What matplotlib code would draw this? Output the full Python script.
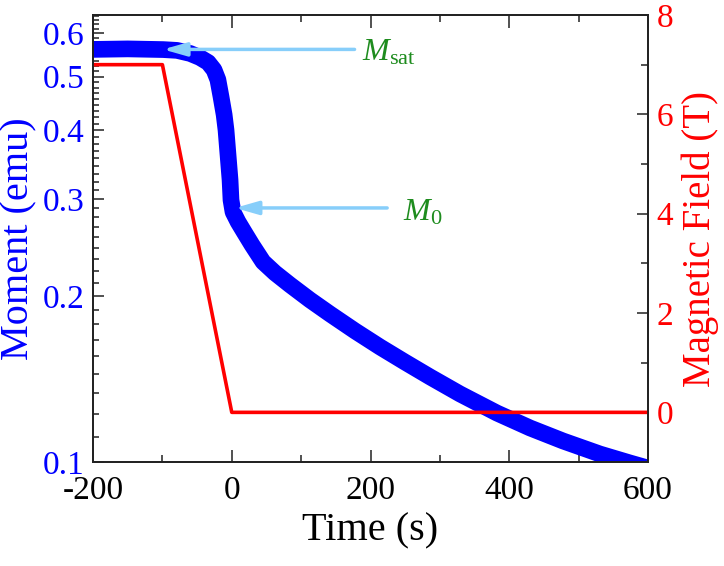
import matplotlib
matplotlib.use("Agg")
import matplotlib.pyplot as plt
from matplotlib.ticker import FixedLocator, NullFormatter

plt.rcParams['font.family'] = ['Liberation Serif', 'DejaVu Serif']
plt.rcParams['mathtext.fontset'] = 'custom'
plt.rcParams['mathtext.rm'] = 'Liberation Serif'
plt.rcParams['mathtext.it'] = 'Liberation Serif:italic'
plt.rcParams['axes.unicode_minus'] = False

# Moment data (emu) vs time (s)
time_m = [-200, -150, -99, -79, -60, -46, -34, -25.6, -20, -15.5, -11, -8.3,
          -5.4, -2.5, -1.1, 1.8, 9.0, 17.7, 29.2, 45.1, 62.3, 84.0, 112.8,
          141.6, 177.7, 213.7, 249.7, 285.8, 329.0, 382.3, 429.9, 477.5,
          530.8, 574.1, 600]
moment = [0.5604, 0.5616, 0.5600, 0.5581, 0.5510, 0.5418, 0.5306, 0.5145,
          0.4937, 0.4598, 0.4265, 0.4002, 0.3607, 0.3250, 0.2987, 0.2842,
          0.2727, 0.2615, 0.2476, 0.2307, 0.2203, 0.2096, 0.1968, 0.1856,
          0.1729, 0.1617, 0.1518, 0.1427, 0.1329, 0.1227, 0.1153, 0.1092,
          0.1034, 0.0996, 0.0975]

# Magnetic field (T) vs time (s)
time_b = [-200, -100, 0, 600]
field = [7, 7, 0, 0]

x_ticks = [-200, 0, 200, 400, 600]
m_ticks = [0.1, 0.2, 0.3, 0.4, 0.5, 0.6]
m_ticklabels = ['0.1', '0.2', '0.3', '0.4', '0.5', '0.6']
b_ticks = [0, 2, 4, 6, 8]

fig = plt.figure(figsize=(7.24, 5.66), dpi=100)
ax = fig.add_axes([0.1285, 0.1837, 0.7665, 0.7898])
ax2 = ax.twinx()

blue = '#0000FF'
red = '#FF0000'
arrow_c = '#87CEFA'
green = '#1E8C1E'

ax.plot(time_m, moment, color=blue, lw=12, solid_capstyle='round',
        solid_joinstyle='round')
ax.set_yscale('log')
ax.set_ylim(0.1, 0.647)
ax.set_xlim(-200, 600)

ax.yaxis.set_major_locator(FixedLocator(m_ticks))
ax.set_yticklabels(m_ticklabels)
minors = []
for k in range(1, 7):
    for j in range(1, 9):
        v = k * 0.1 + j * 0.1 / 9
        if v < 0.647:
            minors.append(v)
ax.yaxis.set_minor_locator(FixedLocator(minors))
ax.yaxis.set_minor_formatter(NullFormatter())

ax.set_xticks(x_ticks)
ax.set_xticks([-100, 100, 300, 500], minor=True)

ax2.plot(time_b, field, color=red, lw=2.6)
ax2.set_ylim(-1, 8)
ax2.set_yticks(b_ticks)
ax2.set_yticks([1, 3, 5, 7], minor=True)

for a in (ax, ax2):
    for s in a.spines.values():
        s.set_linewidth(1.3)
        s.set_color('#222222')

ax.tick_params(axis='x', which='both', direction='in', top=True, bottom=True,
               labelsize=24, pad=10, colors='#222222', labelcolor='black')
ax.tick_params(axis='x', which='major', length=9, width=1.1)
ax.tick_params(axis='x', which='minor', length=5, width=1.1)
ax.tick_params(axis='y', which='both', direction='in', left=True, right=False,
               labelsize=24, labelcolor=blue, colors='#222222', pad=6)
ax.tick_params(axis='y', which='major', length=8, width=1.1)
ax.tick_params(axis='y', which='minor', length=4, width=1.1)
ax2.tick_params(axis='y', which='both', direction='in', right=True, left=False,
                labelsize=24, labelcolor=red, colors='#222222', pad=6)
ax2.tick_params(axis='y', which='major', length=8, width=1.1)
ax2.tick_params(axis='y', which='minor', length=5, width=1.1)

ax.set_xlabel('Time (s)', fontsize=29, labelpad=4)
ax.set_ylabel('Moment (emu)', fontsize=29, color=blue, labelpad=4)
ax2.set_ylabel('Magnetic Field (T)', fontsize=28, color=red, labelpad=6)

# arrows and annotations (drawn on top)
ax2.annotate('', xy=(-99, 0.5604), xytext=(177, 0.5604),
             xycoords=ax.transData, textcoords=ax.transData,
             arrowprops=dict(arrowstyle='-|>,head_length=1.4,head_width=0.4',
                             color=arrow_c, lw=2.5, shrinkA=0, shrinkB=0))
ax2.annotate('', xy=(4.6, 0.289), xytext=(224, 0.289),
             xycoords=ax.transData, textcoords=ax.transData,
             arrowprops=dict(arrowstyle='-|>,head_length=1.4,head_width=0.4',
                             color=arrow_c, lw=2.5, shrinkA=0, shrinkB=0))
ax2.text(188, 0.553, r'$M_{\rm sat}$', transform=ax.transData, fontsize=23,
         color=green, ha='left', va='center')
ax2.text(247, 0.283, r'$M_{0}$', transform=ax.transData, fontsize=23,
         color=green, ha='left', va='center')

fig.savefig('out.png', dpi=100)
